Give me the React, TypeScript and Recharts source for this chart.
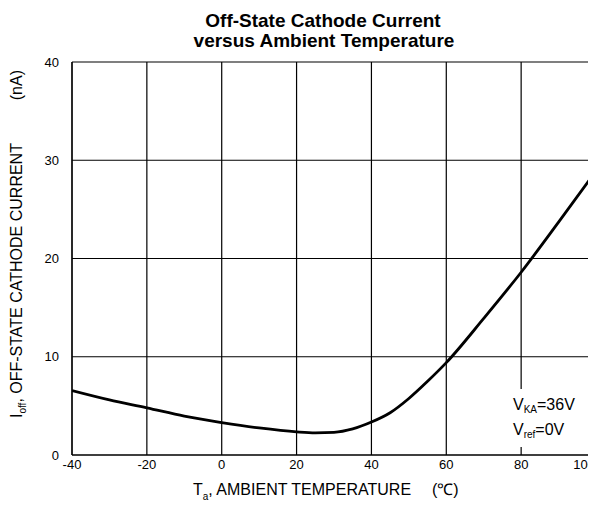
import React from "react";
import {
  LineChart,
  Line,
  XAxis,
  YAxis,
  CartesianGrid,
  Customized,
} from "recharts";

const temperatures = [-40, -30, -20, -10, 0, 10, 20, 25, 30, 35, 40, 45, 50, 55, 60, 70, 80, 90, 100];
const offCurrent = [6.55, 5.6, 4.8, 3.95, 3.3, 2.75, 2.35, 2.25, 2.3, 2.65, 3.35, 4.3, 5.75, 7.5, 9.4, 13.9, 18.6, 23.7, 28.9];
const xTicks = [-40, -20, 0, 20, 40, 60, 80, 100];
const yTicks = [0, 10, 20, 30, 40];
const titleLines = ["Off-State Cathode Current", "versus Ambient Temperature"];

const data = temperatures.map((t, i) => ({ t, i: offCurrent[i] }));

const FONT = "Liberation Sans, Arial, Helvetica, sans-serif";

const XTick = (props: any) => {
  const { x, payload, index } = props;
  const last = index === xTicks.length - 1;
  return (
    <text
      x={last ? 587 : x}
      y={461}
      textAnchor={last ? "end" : "middle"}
      fontFamily={FONT}
      fontSize={13}
      fill="#000"
    >
      {payload.value}
    </text>
  );
};

const YTick = (props: any) => {
  const { y, payload } = props;
  return (
    <text x={51} y={y + 4.5} textAnchor="end" fontFamily={FONT} fontSize={13} fill="#000">
      {payload.value}
    </text>
  );
};

const Overlay = () => (
  <g fontFamily={FONT} fill="#000">
    <text x={315} y={19} textAnchor="middle" fontSize={19} fontWeight="bold">
      {titleLines[0]}
    </text>
    <text x={316} y={39} textAnchor="middle" fontSize={19} fontWeight="bold">
      {titleLines[1]}
    </text>
    <text x={185} y={487} fontSize={16}>
      T<tspan fontSize={10} dy={5}>a</tspan>
      <tspan dy={-5}>, AMBIENT TEMPERATURE</tspan>
    </text>
    <text x={424} y={487} fontSize={16}>
      (℃)
    </text>
    <text x={14} y={410} fontSize={16} transform="rotate(-90 14 410)">
      I<tspan fontSize={10} dy={4}>off</tspan>
      <tspan dy={-4}>, OFF-STATE CATHODE CURRENT</tspan>
    </text>
    <text x={14} y={62} fontSize={16} textAnchor="end" transform="rotate(-90 14 62)">
      (nA)
    </text>
    <rect x={497} y={381} width={80} height={58} fill="#fff" />
    <text x={505} y={402} fontSize={16}>
      V<tspan fontSize={10} dy={3}>KA</tspan>
      <tspan dy={-3}>=36V</tspan>
    </text>
    <text x={505} y={427} fontSize={16}>
      V<tspan fontSize={10} dy={3}>ref</tspan>
      <tspan dy={-3}>=0V</tspan>
    </text>
  </g>
);

export default function App() {
  return (
    <LineChart
      width={588}
      height={497}
      data={data}
      margin={{ top: 54, right: 0, left: 0, bottom: 20 }}
      style={{ background: "#fff" }}
    >
      <CartesianGrid stroke="#000" strokeWidth={1.2} />
      <XAxis
        dataKey="t"
        type="number"
        domain={[-40, 100]}
        ticks={xTicks}
        height={30}
        tickLine={false}
        axisLine={{ stroke: "#000", strokeWidth: 1.2 }}
        tick={<XTick />}
        interval={0}
        allowDataOverflow
      />
      <YAxis
        type="number"
        domain={[0, 40]}
        ticks={yTicks}
        width={64}
        tickLine={false}
        axisLine={{ stroke: "#000", strokeWidth: 1.2 }}
        tick={<YTick />}
        interval={0}
      />
      <Customized component={Overlay} />
      <Line
        type="monotone"
        dataKey="i"
        stroke="#000"
        strokeWidth={2.8}
        dot={false}
        isAnimationActive={false}
      />
    </LineChart>
  );
}
